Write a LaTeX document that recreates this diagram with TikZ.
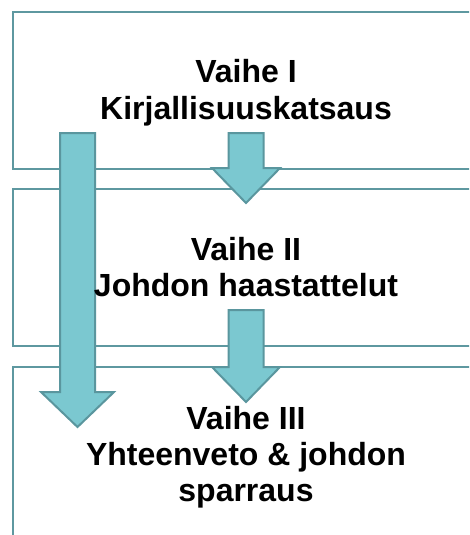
\documentclass[tikz,border=0pt]{standalone}
\usepackage{fontspec}
\setmainfont{Liberation Sans}
\definecolor{boxline}{RGB}{94,152,160}
\definecolor{arrowfill}{RGB}{123,200,208}
\definecolor{arrowline}{RGB}{90,150,158}
\begin{document}
\begin{tikzpicture}[x=1pt,y=-1pt,
  stagebox/.style={draw=boxline,line width=2pt,fill=white,rectangle,inner sep=0pt,anchor=north west},
  blockarrow/.style={draw=arrowline,line width=2pt,fill=arrowfill,line join=miter},
  stagetext/.style={align=center,anchor=base,inner sep=0pt,font=\fontsize{32}{36.3}\selectfont\bfseries}]
\useasboundingbox (0,0) rectangle (469,535);
\clip (0,0) rectangle (469,535);
% stage boxes
\node[stagebox,minimum width=468pt,minimum height=157pt] (s1) at (12,11) {};
\node[stagebox,minimum width=468pt,minimum height=157pt] (s2) at (12,188) {};
\node[stagebox,minimum width=468pt,minimum height=200pt] (s3) at (12,366) {};
% block arrows
\draw[blockarrow] (60,133) -- (95,133) -- (95,392) -- (114,392) -- (77.5,427) -- (41,392) -- (60,392) -- cycle;
\draw[blockarrow] (228.5,133) -- (263.5,133) -- (263.5,168) -- (280,168) -- (246,203) -- (212,168) -- (228.5,168) -- cycle;
\draw[blockarrow] (228.5,310) -- (263.5,310) -- (263.5,367) -- (280,367) -- (246,402) -- (212,367) -- (228.5,367) -- cycle;
% texts (base anchor = baseline of last line)
\node[stagetext] (t1) at (246,119) {Vaihe I\\Kirjallisuuskatsaus};
\node[stagetext] (t2) at (246,296.7) {Vaihe II\\Johdon haastattelut};
\node[stagetext] (t3) at (246,501.7) {Vaihe III\\Yhteenveto \& johdon\\sparraus};
\end{tikzpicture}
\end{document}
